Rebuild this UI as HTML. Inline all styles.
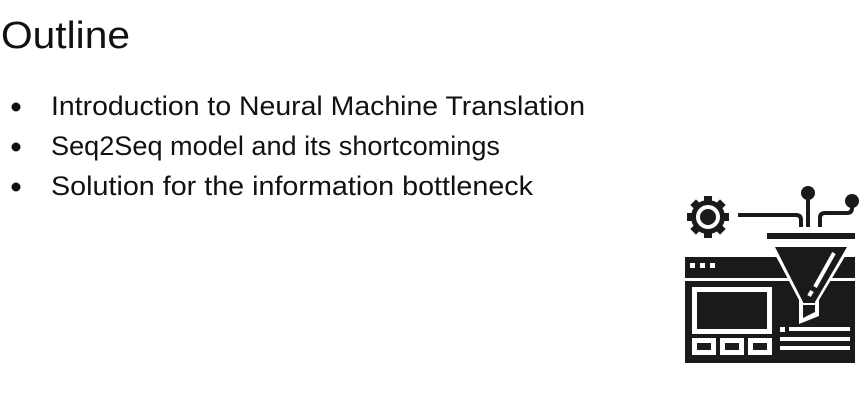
<!DOCTYPE html>
<html><head><style>html,body{margin:0;padding:0;background:#fff;width:865px;height:417px;overflow:hidden}</style></head>
<body>
<svg width="865" height="417" viewBox="0 0 865 417" xmlns="http://www.w3.org/2000/svg" font-family="Liberation Sans, sans-serif" fill="#111">
<text x="1" y="48" font-size="38" textLength="129" lengthAdjust="spacingAndGlyphs">Outline</text>
<circle cx="16" cy="107" r="4.5"/><circle cx="16" cy="147" r="4.5"/><circle cx="16" cy="187" r="4.5"/>
<text x="51" y="115" font-size="27" textLength="534" lengthAdjust="spacingAndGlyphs">Introduction to Neural Machine Translation</text>
<text x="51" y="155" font-size="27" textLength="449" lengthAdjust="spacingAndGlyphs">Seq2Seq model and its shortcomings</text>
<text x="51" y="195" font-size="27" textLength="482" lengthAdjust="spacingAndGlyphs">Solution for the information bottleneck</text>
<g fill="#1a1a1a">
<g transform="translate(708,217)">
<circle r="17"/>
<rect x="-4" y="-21" width="8" height="42"/>
<rect x="-4" y="-21" width="8" height="42" transform="rotate(45)"/>
<rect x="-4" y="-21" width="8" height="42" transform="rotate(90)"/>
<rect x="-4" y="-21" width="8" height="42" transform="rotate(135)"/>
<circle r="12" fill="#fff"/>
<circle r="8"/>
</g>
<path d="M738 215 H796 Q801 215 801 220 V227" fill="none" stroke="#1a1a1a" stroke-width="4"/>
<circle cx="808" cy="193" r="7"/>
<rect x="806" y="193" width="4" height="34"/>
<circle cx="852" cy="201" r="7"/>
<path d="M852 203 V208 Q852 213 847 213 H825 Q820 213 820 218 V227" fill="none" stroke="#1a1a1a" stroke-width="4"/>
<rect x="767" y="233" width="88" height="6"/>
<rect x="685" y="257" width="170" height="106"/>
<rect x="690" y="263" width="5" height="5" fill="#fff"/>
<rect x="700" y="263" width="5" height="5" fill="#fff"/>
<rect x="710" y="263" width="5" height="5" fill="#fff"/>
<rect x="685" y="278" width="170" height="3" fill="#fff"/>
<rect x="692" y="287" width="80" height="47" fill="#fff"/>
<rect x="697" y="292" width="70" height="37"/>
<rect x="692" y="338" width="24" height="17" fill="#fff"/><rect x="697" y="343" width="14" height="7"/>
<rect x="720" y="338" width="24" height="17" fill="#fff"/><rect x="725" y="343" width="14" height="7"/>
<rect x="748" y="338" width="24" height="17" fill="#fff"/><rect x="753" y="343" width="14" height="7"/>
<rect x="780" y="327" width="5" height="5" fill="#fff"/>
<rect x="789" y="327" width="61" height="4" fill="#fff"/>
<rect x="780" y="337" width="70" height="4" fill="#fff"/>
<rect x="780" y="346" width="70" height="4" fill="#fff"/>
<!-- funnel: white halo then black -->
<path d="M769 243 H853 L819 300 V316 L799 324 V300 Z" fill="#fff"/>
<path d="M775 247 H847 L815 302 V312 L803 318 V302 Z"/>
<path d="M834 253 L815 287" stroke="#fff" stroke-width="4"/>
<path d="M812 291 L809 296" stroke="#fff" stroke-width="4"/>
<path d="M803 304 H815" stroke="#fff" stroke-width="2"/>
</g>
</svg>
</body></html>
